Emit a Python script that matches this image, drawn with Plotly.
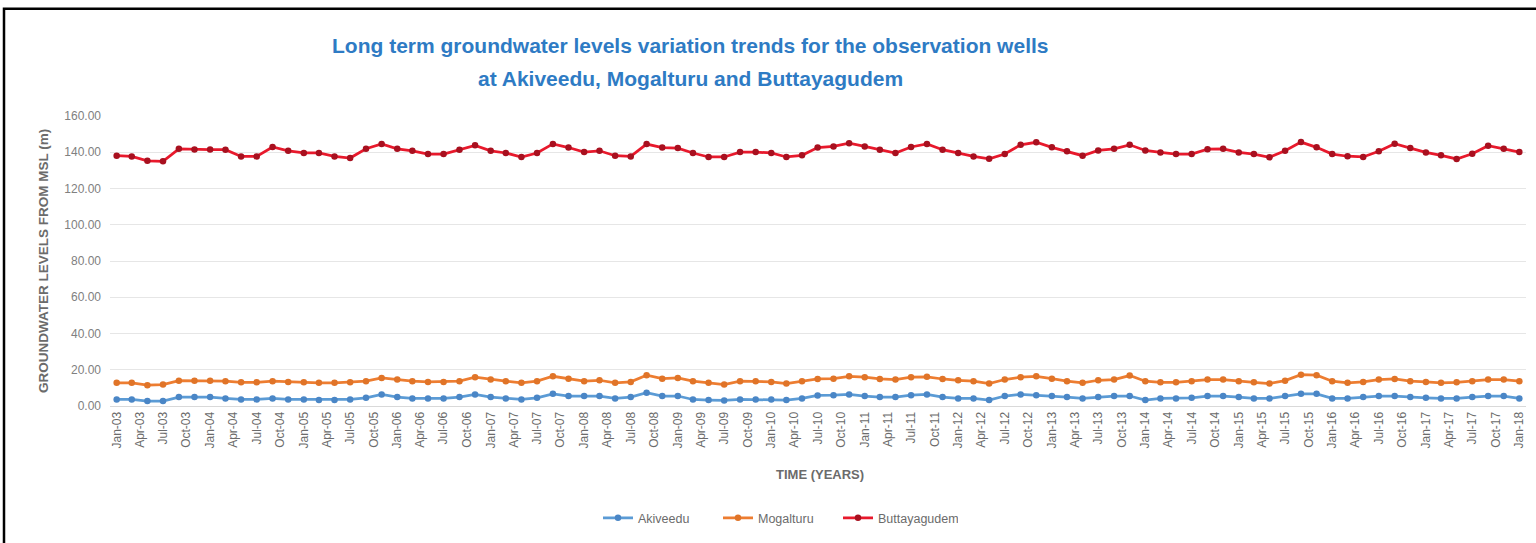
import pandas as pd
import plotly.graph_objects as go

# bimonthly observation dates, Jan-2003 .. Jan-2018
dates = pd.date_range("2003-01-01", periods=91, freq="2MS")

akiveedu = [3.6, 3.6, 2.7, 2.7, 4.9, 4.9, 4.9, 4.2, 3.6, 3.6, 4.2, 3.6, 3.6, 3.3, 3.3, 3.6, 4.5, 6.4, 4.9, 4.2,
            4.2, 4.2, 4.9, 6.4, 4.9, 4.2, 3.6, 4.5, 6.7, 5.5,
            5.5, 5.5, 4.2, 4.9, 7.3, 5.5, 5.5, 3.6, 3.3, 3.1, 3.6, 3.6, 3.6, 3.3, 4.2, 5.8, 6.0, 6.4, 5.5, 4.9,
            4.9, 6.0, 6.4, 4.9, 4.2, 4.2, 3.3, 5.5, 6.4, 6.0,
            5.5, 4.9, 4.2, 4.9, 5.5, 5.5, 3.3, 4.2, 4.2, 4.5, 5.5, 5.5, 4.9, 4.2, 4.2, 5.5, 6.7, 6.7, 4.2, 4.2,
            4.9, 5.5, 5.5, 4.9, 4.5, 4.2, 4.2, 4.9, 5.5, 5.5, 4.2]

mogalturu = [12.8, 12.8, 11.5, 11.8, 14.0, 14.0, 14.0, 13.7, 13.1, 13.1, 13.7, 13.3, 13.1, 12.8, 12.8, 13.1,
             13.7, 15.5, 14.6, 13.7, 13.3, 13.3, 13.7, 15.9, 14.6, 13.7, 12.8, 13.7, 16.4, 15.1,
             13.7, 14.2, 12.8, 13.3, 17.0, 15.1, 15.5, 13.7, 12.8, 11.8, 13.7, 13.7, 13.3, 12.4, 13.7, 14.9,
             15.1, 16.4, 15.9, 14.9, 14.6, 15.9, 16.1, 14.9, 14.2, 13.7, 12.4, 14.6, 15.9, 16.4,
             15.1, 13.7, 12.8, 14.2, 14.6, 16.8, 13.7, 13.1, 13.1, 13.7, 14.6, 14.6, 13.7, 13.1, 12.4, 14.0,
             17.3, 17.0, 13.7, 12.8, 13.3, 14.6, 14.9, 13.7, 13.3, 12.8, 13.1, 13.7, 14.6, 14.6, 13.7]

buttayagudem = [138.1, 137.7, 135.3, 135.0, 141.9, 141.5, 141.5, 141.4, 137.7, 137.7, 142.9, 140.8, 139.6,
                139.6, 137.7, 136.8, 141.9, 144.6, 141.9, 140.8, 139.0, 139.0, 141.4, 143.8, 140.8, 139.6,
                137.4, 139.6, 144.6, 142.6,
                140.1, 140.8, 138.1, 137.7, 144.5, 142.6, 142.3, 139.6, 137.4, 137.4, 140.1, 140.1, 139.6,
                137.4, 138.3, 142.6, 143.2, 145.0, 143.2, 141.4, 139.6, 142.9, 144.6, 141.4, 139.6, 137.7,
                136.4, 139.0, 144.1, 145.5,
                142.7, 140.5, 138.1, 141.0, 141.9, 144.1, 141.0, 139.9, 139.0, 139.0, 141.7, 141.9, 139.9,
                139.0, 137.2, 140.8, 145.6, 142.7, 139.0, 137.8, 137.4, 140.5, 144.7, 142.3, 139.9, 138.3,
                136.3, 139.2, 143.6, 141.9, 140.1]

series_names = ["Akiveedu", "Mogalturu", "Buttayagudem"]
line_colors = ["#5B9BD5", "#ED7D31", "#E8192C"]
marker_colors = ["#4A86C6", "#E07428", "#A8101F"]

W, H = 1536, 543
L, R, T, B = 110, 10, 116, 135
pw, ph = W - L - R, H - T - B


def px(x):
    return (x - L) / pw


def py(y):
    return (H - B - y) / ph


FONT = "Liberation Sans, Arial"
fig = go.Figure()
for name, vals, lc, mc in zip(series_names, [akiveedu, mogalturu, buttayagudem], line_colors, marker_colors):
    fig.add_trace(go.Scatter(
        x=dates, y=vals, name=name, mode="lines+markers",
        line=dict(color=lc, width=2.75),
        marker=dict(color=mc, size=6.5, symbol="circle"),
    ))

gray = "#6B6B6B"
fig.update_layout(
    width=W, height=H,
    margin=dict(l=L, r=R, t=T, b=B),
    paper_bgcolor="white", plot_bgcolor="white",
    showlegend=True,
    legend=dict(orientation="h", x=px(598), y=py(521), xanchor="left", yanchor="middle",
                font=dict(family=FONT, size=12.5, color=gray),
                itemwidth=30, tracegroupgap=0, entrywidth=75, entrywidthmode="pixels"),
    xaxis=dict(
        type="date",
        range=["2002-12-06", "2018-01-27"],
        tick0="2003-01-01", dtick="M3", tickformat="%b-%y",
        tickangle=-90,
        tickfont=dict(family=FONT, size=12, color=gray),
        showgrid=False, showline=True, linecolor="#D9D9D9", linewidth=1,
        ticks="", zeroline=False,
    ),
    yaxis=dict(
        range=[0, 160], dtick=20, tickformat=".2f",
        tickfont=dict(family=FONT, size=12, color="#808080"),
        showgrid=True, gridcolor="#E6E6E6", gridwidth=1,
        zeroline=False, showline=False, ticks="", ticklabelstandoff=8,
    ),
    font=dict(family=FONT, color=gray),
)

title_font = dict(family=FONT, size=21, color="#2E7BC4")
fig.add_annotation(text="<b>Long term groundwater levels variation trends for the observation wells</b>",
                   xref="paper", yref="paper", x=px(690), y=py(45), showarrow=False,
                   xanchor="center", yanchor="middle", font=title_font)
fig.add_annotation(text="<b>at Akiveedu, Mogalturu and Buttayagudem</b>",
                   xref="paper", yref="paper", x=px(690), y=py(78), showarrow=False,
                   xanchor="center", yanchor="middle", font=title_font)
fig.add_annotation(text="<b>TIME (YEARS)</b>", xref="paper", yref="paper", x=px(820), y=py(477),
                   showarrow=False, xanchor="center", yanchor="middle",
                   font=dict(family=FONT, size=13, color=gray))
fig.add_annotation(text="<b>GROUNDWATER LEVELS FROM MSL (m)</b>", xref="paper", yref="paper",
                   x=px(43), y=py(262), showarrow=False, textangle=-90,
                   xanchor="center", yanchor="middle",
                   font=dict(family=FONT, size=13.5, color=gray))

# outer chart frame
fig.add_shape(type="rect", xref="paper", yref="paper",
              x0=px(4), x1=px(1545), y0=py(555), y1=py(8),
              line=dict(color="black", width=2.5), fillcolor="rgba(0,0,0,0)", layer="above")

fig.write_html("out.html", config={"displayModeBar": False},
               post_script="document.body.style.margin='0';document.body.style.padding='0';")
